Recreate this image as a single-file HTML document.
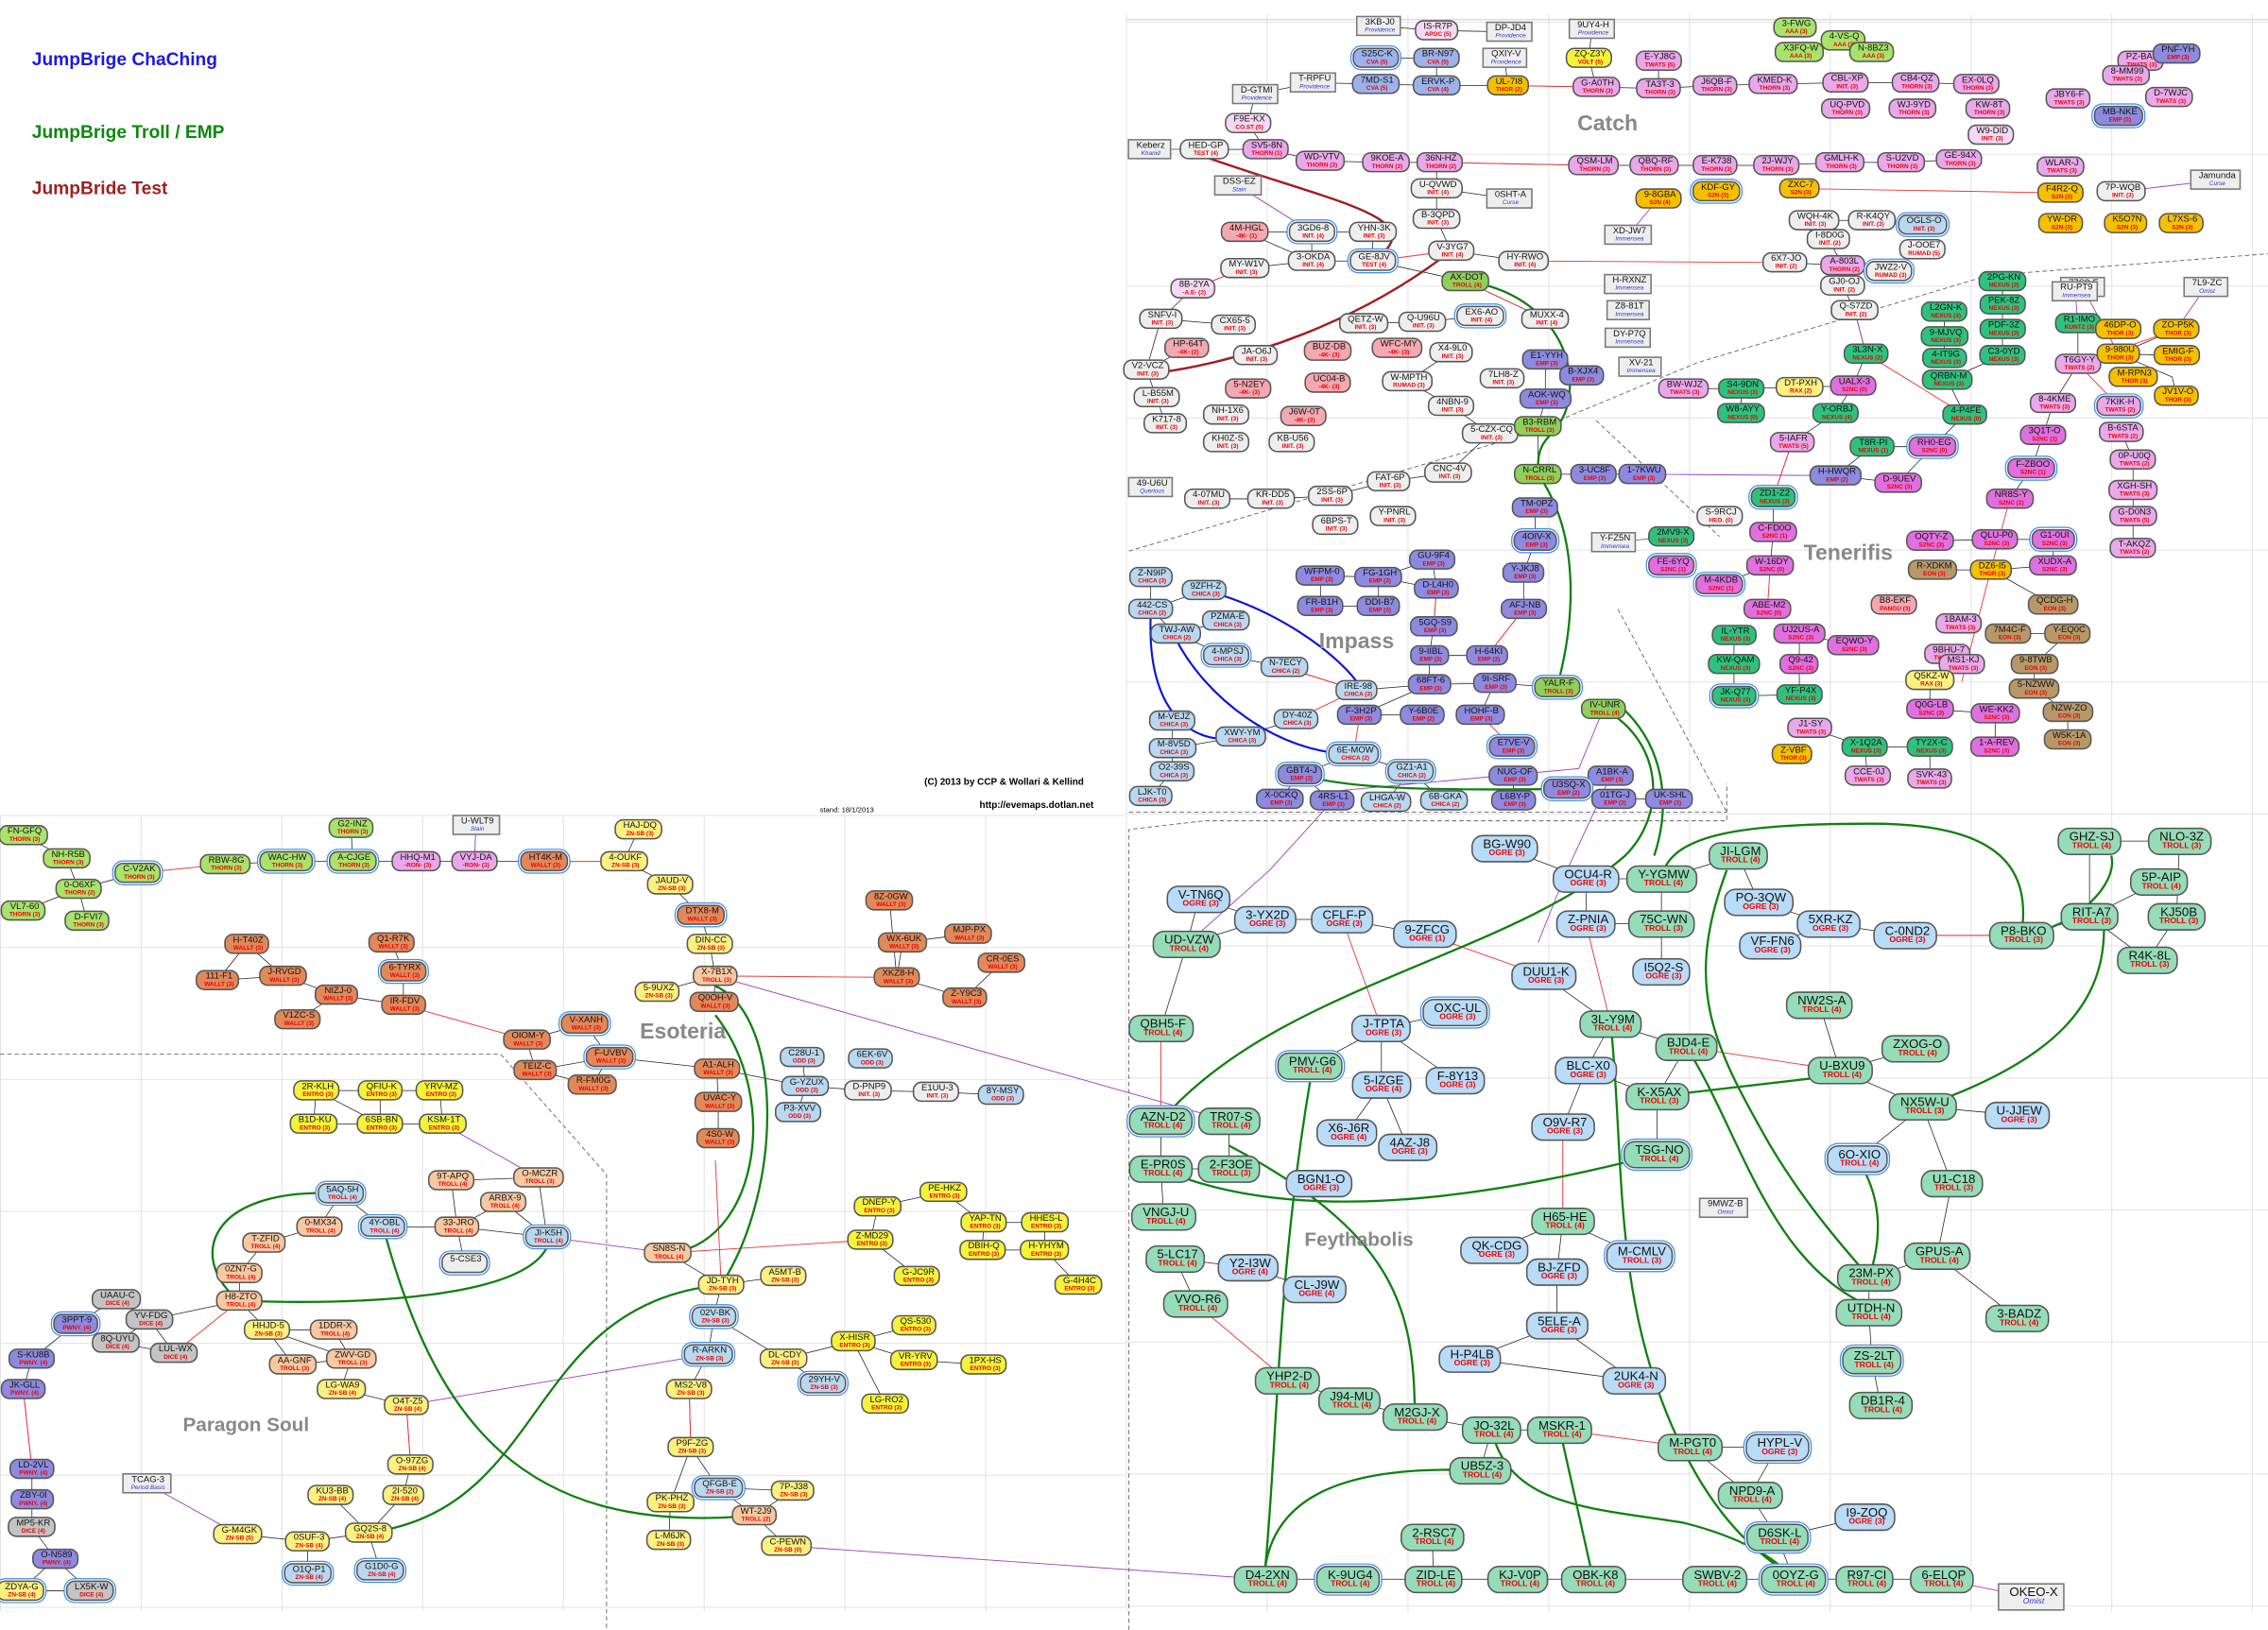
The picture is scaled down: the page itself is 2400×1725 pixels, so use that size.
<!DOCTYPE html>
<html><head><meta charset="utf-8"><style>
html,body{margin:0;padding:0;background:#fff;width:2400px;height:1725px;overflow:hidden}
#w{position:absolute;left:0;top:0;width:1563px;height:1124px;transform:scale(1.53551,1.53470);transform-origin:0 0;font-family:"Liberation Sans",sans-serif}
.g{position:absolute;background-image:linear-gradient(to right,#e2e2e2 0.7px,transparent 0.7px),linear-gradient(to bottom,#e2e2e2 0.7px,transparent 0.7px);background-size:97px 91px}
.n{position:absolute;transform:translate(-50%,-50%);border:0.7px solid #555;border-radius:6px;font-size:6.2px;line-height:6.1px;padding:0.7px 3px 0.9px 5px;text-align:center;white-space:nowrap;color:#111;background:#eee;font-style:normal}
.n u{display:block;text-decoration:none;color:#e00;font-size:4.2px;line-height:4.6px;font-weight:bold;font-style:normal}
.N{font-size:8.6px;line-height:8.4px;padding:1px 4px 1.2px 7px;border-radius:8px}
.N u{font-size:5.6px;line-height:6px}
.x{border-radius:0;background:#eee;border-color:#777}
.x u{color:#33c;font-weight:normal;font-style:italic}
.d{box-shadow:0 0 0 0.8px #fff,0 0 0 1.6px #3a8cf0}
.b{background:#b8dbf7}.gr{background:#95dcb9}.p{background:#e9a8ea}.m{background:#e070e0}.lp{background:#f3d9f3}
.y{background:#f5f23a}.ye{background:#fbf080}.o{background:#e2895a}.lg{background:#a9e36a}.pu{background:#8d8ae0}
.t{background:#2ec27e}.br{background:#b89868}.gd{background:#f5c000}.lr{background:#f4a8b0}.pe{background:#f8c8a0}
.dc{background:#c4c4c4}.cv{background:#9db2ea}.lm{background:#8fcf5a}.lb{background:#b9d8f0}
.L{position:absolute;font-weight:bold;color:#888;font-size:15px}
.T{position:absolute;font-weight:bold;font-size:12.5px}
</style></head><body><div id="w">
<div class="g" style="left:776px;top:10px;width:787px;height:1101px;background-position:0 5px"></div>
<div class="g" style="left:0;top:562px;width:776px;height:549px;background-position:0 0"></div>
<div style="position:absolute;left:776px;top:13px;width:787px;height:1px;background:#ddd"></div>

<svg style="position:absolute;left:0;top:0" width="1563" height="1124" viewBox="0 0 1563 1124" fill="none">
<g stroke="#666" stroke-width="0.6" stroke-dasharray="3,2">
<path d="M0 727 L345 727 L418 810 L418 1124"/>
<path d="M778 1124 L778 572 L830 566 L1190 566 L1190 540"/>
<path d="M778 380 L1050 300 L1170 250 L1370 190 L1563 175"/>
<path d="M1100 290 L1185 370"/>
<path d="M1115 420 L1190 560"/>
<path d="M778 560 L1190 560"/>
</g>
<g stroke="#222" stroke-width="0.5">
<path d="M826 620 L872 634 L925 634 L982 644"/><path d="M826 620 L818 651 L872 634"/><path d="M818 651 L800 709"/>
<path d="M1037 585 L1093 606 L1145 606 L1198 590"/><path d="M1093 606 L1093 637 L1145 637 L1145 606"/><path d="M1145 637 L1145 670"/>
<path d="M1064 673 L1110 706 L1162 722"/><path d="M1110 706 L1093 738 L1142 756 L1162 722"/><path d="M1093 738 L1077 777"/>
<path d="M952 709 L1003 698"/><path d="M952 709 L903 735"/><path d="M952 709 L952 748 L928 781"/><path d="M952 709 L1003 745"/><path d="M952 748 L970 791"/>
<path d="M800 773 L800 806 L847 806 L847 773"/><path d="M800 806 L802 839"/><path d="M810 868 L860 874 L906 889"/><path d="M810 868 L824 899"/>
<path d="M1077 842 L1130 866"/><path d="M1077 842 L1030 862"/><path d="M1077 842 L1073 877 L1073 914 L1013 937 L1126 952 L1073 914"/>
<path d="M1142 756 L1142 796"/><path d="M1198 590 L1212 622 L1260 637 L1313 645 L1393 645"/><path d="M1220 652 L1260 637"/>
<path d="M1440 580 L1502 580 L1500 632 L1480 662 L1440 632 L1440 580"/><path d="M1440 632 L1488 608"/><path d="M1393 645 L1440 632"/>
<path d="M1254 693 L1268 738 L1320 723"/><path d="M1268 738 L1325 763 L1390 769"/><path d="M1325 763 L1345 816 L1335 866"/><path d="M1325 763 L1280 799"/>
<path d="M1288 881 L1288 905 L1290 938 L1296 969"/><path d="M1335 866 L1390 909"/><path d="M1288 881 L1335 866"/>
<path d="M887 952 L930 966 L975 977 L1028 986 L1075 986"/><path d="M1028 986 L1020 1014"/><path d="M1165 998 L1225 998 L1206 1031 L1165 998"/><path d="M1206 1031 L1225 1060 L1285 1046"/><path d="M1225 1060 L1236 1089"/>
<path d="M872 1089 L1098 1089"/><path d="M1182 1089 L1338 1089"/><path d="M987 1060 L988 1089"/>
<path d="M46 592 L16 576"/><path d="M46 592 L54 613 L16 628"/><path d="M54 613 L60 635"/><path d="M54 613 L95 602"/><path d="M155 596 L197 594 L243 594 L287 594 L327 594 L375 594"/><path d="M243 594 L242 571"/><path d="M430 594 L440 572"/><path d="M430 594 L462 610 L483 631 L489 651"/>
<path d="M170 651 L150 676 L195 673 L170 651"/><path d="M195 673 L232 686 L278 693 L278 670 L270 650"/><path d="M232 686 L205 703"/>
<path d="M363 717 L403 706 L420 729 L369 738 L363 717"/><path d="M369 738 L408 748 L420 729 L494 737"/><path d="M494 737 L495 760 L495 785"/><path d="M493 673 L453 684"/><path d="M493 673 L492 691"/><path d="M489 651 L493 673"/>
<path d="M553 729 L555 749 L598 752 L645 753 L690 755"/><path d="M555 749 L550 767"/><path d="M494 737 L555 749"/>
<path d="M618 674 L613 621"/><path d="M618 674 L622 650"/><path d="M618 674 L665 688 L690 664"/><path d="M622 650 L667 644"/>
<path d="M218 752 L262 752 L303 752 L305 775 L262 775 L216 775 L218 752"/><path d="M262 752 L262 775"/><path d="M218 752 L262 775"/>
<path d="M235 823 L220 846 L182 857 L165 878 L165 897"/><path d="M235 823 L264 846 L315 846 L377 853 L347 829 L315 846"/><path d="M315 846 L320 871"/><path d="M311 814 L371 812 L377 853"/><path d="M311 814 L315 846"/>
<path d="M80 896 L52 913 L80 926 L103 910 L80 896"/><path d="M80 926 L120 933 L103 910 L165 897"/><path d="M52 913 L22 937 L16 958"/><path d="M16 958 L22 1013 L22 1034 L22 1053 L38 1075 L14 1097 L62 1097 L38 1075"/>
<path d="M165 897 L184 917 L230 917 L242 937 L202 941 L184 917 L242 937 L235 958 L280 969 L283 1010 L278 1031 L254 1057 L212 1063 L164 1058"/><path d="M254 1057 L228 1031"/><path d="M212 1063 L212 1085"/><path d="M254 1057 L262 1083"/>
<path d="M460 864 L497 886 L540 880"/><path d="M497 886 L492 908 L488 934 L475 958 L476 998 L495 1026 L520 1045 L546 1028 L495 1026"/><path d="M476 998 L462 1036 L461 1062"/><path d="M520 1045 L542 1066"/><path d="M492 908 L540 937 L588 925 L630 914"/><path d="M540 937 L567 954"/><path d="M588 925 L630 938 L678 941"/><path d="M588 925 L610 968"/>
<path d="M605 832 L650 822 L678 843 L720 843 L720 862 L677 862 L678 843"/><path d="M605 832 L600 855 L632 880"/><path d="M720 862 L743 886"/>
<path d="M865 65 L905 57 L948 58 L990 59 L1039 59 L1100 60 L1143 61 L1180 59 L1220 58 L1270 57 L1320 57 L1360 58"/><path d="M948 40 L990 40 L990 59"/><path d="M950 18 L990 21 L1040 22"/><path d="M1037 40 L1039 59"/><path d="M1097 20 L1095 40 L1100 60"/><path d="M1143 42 L1143 61"/>
<path d="M865 65 L860 85 L872 103 L830 103 L790 103"/><path d="M872 103 L910 111 L955 112 L990 112 L1098 114 L1140 114 L1180 114 L1222 114 L1268 112 L1310 112 L1350 110"/><path d="M990 112 L990 130 L990 151 L1000 173 L1050 180"/><path d="M990 130 L1040 137"/>
<path d="M858 160 L904 160 L946 160 L946 180 L904 180 L904 160"/><path d="M858 160 L904 180 L858 185"/><path d="M858 185 L822 199 L800 220 L850 224"/><path d="M946 180 L1010 194 L1065 220"/><path d="M800 220 L790 255 L818 240"/><path d="M790 255 L797 274 L803 292"/>
<path d="M940 223 L980 222 L1020 218"/><path d="M1000 243 L970 263 L1000 280 L1027 299 L998 326 L957 332 L917 342 L876 344 L832 344"/><path d="M1065 248 L1065 275 L1060 294 L1060 327 L1098 327 L1132 327"/><path d="M1058 350 L1058 373 L1050 395 L1050 420 L1025 452 L985 452 L985 472 L1030 471 L1073 474"/><path d="M985 472 L937 493 L980 493"/><path d="M1030 471 L1020 493"/><path d="M935 476 L985 472"/>
<path d="M910 397 L950 398 L987 386 L990 406 L950 398 L950 418 L910 418 L910 397"/><path d="M990 406 L988 432 L985 452"/>
<path d="M793 398 L793 420 L810 437 L845 452 L885 460 L935 476"/><path d="M793 420 L830 407"/><path d="M810 437 L845 428"/><path d="M808 497 L808 516 L855 508 L893 496"/><path d="M808 516 L808 532 L793 549"/><path d="M933 520 L896 534 L882 551"/><path d="M896 534 L918 552"/><path d="M933 520 L972 532 L955 553"/><path d="M972 532 L995 552"/><path d="M1043 535 L1043 552"/><path d="M1080 544 L1110 535"/><path d="M1080 544 L1112 551 L1150 551"/>
<path d="M1250 152 L1290 152 L1325 155"/><path d="M1260 165 L1270 183 L1230 181"/><path d="M1270 183 L1270 197 L1278 214 L1286 244 L1277 266 L1265 285 L1235 305 L1222 343 L1222 367 L1220 390"/><path d="M1160 268 L1200 268 L1240 267 L1277 266"/><path d="M1200 268 L1200 285"/><path d="M1380 194 L1380 210 L1380 245 L1342 262 L1354 286 L1332 308 L1308 333 L1265 328 L1290 308 L1332 308"/><path d="M1340 215 L1340 245"/><path d="M1432 223 L1432 251 L1415 278 L1408 300 L1400 323 L1385 344"/><path d="M1500 227 L1460 244 L1497 245"/><path d="M1460 244 L1497 260 L1500 273"/><path d="M1462 298 L1470 317 L1470 338 L1470 356 L1470 378"/>
<path d="M1330 373 L1375 372 L1415 372 L1415 390 L1372 393 L1332 393"/><path d="M1372 393 L1415 417"/><path d="M1185 403 L1220 390"/><path d="M1195 438 L1195 458 L1195 480 L1240 479 L1240 458 L1240 437 L1277 445"/><path d="M1384 437 L1425 437 L1402 458 L1402 475 L1425 491 L1425 510"/><path d="M1330 469 L1330 489 L1375 492 L1375 515"/><path d="M1285 515 L1330 515 L1330 537"/><path d="M1247 502 L1285 515 L1287 535"/>
</g>
<g stroke="#e33" stroke-width="0.6">
<path d="M925 634 L952 709"/><path d="M982 644 L1064 673"/><path d="M1093 637 L1110 706"/><path d="M800 709 L800 773"/><path d="M824 899 L887 952"/><path d="M1077 777 L1077 842"/><path d="M1075 986 L1165 998"/><path d="M1098 1089 L1182 1089"/><path d="M1162 722 L1268 738"/><path d="M1313 645 L1393 645"/>
<path d="M95 602 L155 596"/><path d="M375 594 L430 594"/><path d="M278 693 L363 717"/><path d="M493 673 L618 674"/><path d="M165 897 L120 933"/><path d="M22 1013 L16 958"/><path d="M280 969 L283 1010"/><path d="M475 958 L476 998"/><path d="M497 886 L493 800"/><path d="M460 864 L600 855"/>
<path d="M1039 59 L1100 60"/><path d="M990 112 L1098 114"/><path d="M1050 180 L1230 181"/><path d="M1420 133 L1240 130"/><path d="M822 199 L858 185"/><path d="M1000 173 L946 180"/><path d="M1010 194 L1065 220"/><path d="M1286 244 L1354 286"/><path d="M1432 251 L1500 227"/><path d="M1432 251 L1460 280"/><path d="M1235 305 L1222 343"/><path d="M885 460 L935 476 L893 496"/><path d="M937 493 L933 520"/><path d="M990 406 L988 432"/><path d="M1050 420 L1025 452"/><path d="M1020 493 L1042 515"/><path d="M1385 344 L1372 393 L1352 470"/><path d="M1218 420 L1220 390"/>
</g>
<g stroke="#a040c0" stroke-width="0.6">
<path d="M493 673 L847 773"/><path d="M542 1066 L872 1089"/><path d="M1105 489 L1088 530 L925 545 L875 600 L818 651"/><path d="M488 934 L280 969"/><path d="M101 1023 L164 1058"/><path d="M1338 1089 L1397 1101"/><path d="M377 853 L460 864"/><path d="M305 775 L371 812"/><path d="M1110 535 L1080 600 L1060 650"/><path d="M1132 327 L1265 328"/><path d="M1112 374 L1152 370"/><path d="M790 103 L830 103"/><path d="M853 128 L904 160"/><path d="M328 569 L327 594"/><path d="M1143 137 L1122 162"/><path d="M1430 200 L1432 223"/><path d="M1435 198 L1460 244"/><path d="M1520 198 L1500 227"/><path d="M1278 214 L1286 244"/><path d="M1530 124 L1462 132"/>
</g>
<g stroke="#108010" stroke-width="1.5">
<path d="M1010 194 C1060 200 1090 240 1080 280 C1075 300 1060 300 1060 320"/>
<path d="M1060 327 C1090 370 1085 430 1073 474"/>
<path d="M1105 489 C1145 510 1150 560 1120 590 C1040 660 880 680 800 773"/>
<path d="M1120 490 C1150 520 1150 560 1140 590"/>
<path d="M1145 606 C1150 575 1200 568 1290 568 C1380 568 1400 600 1393 645"/>
<path d="M1393 645 C1430 640 1460 610 1455 590"/>
<path d="M1325 763 C1420 730 1450 690 1450 640"/>
<path d="M1190 600 C1160 680 1180 720 1220 790 C1250 840 1280 870 1288 881"/>
<path d="M1162 722 C1200 780 1220 880 1300 905"/>
<path d="M1110 706 C1120 800 1110 900 1160 1000 C1190 1060 1220 1075 1236 1089"/>
<path d="M1028 986 C1040 1040 1100 1040 1160 1050 C1200 1060 1225 1075 1236 1089"/>
<path d="M1075 986 L1098 1089"/>
<path d="M903 745 C880 880 880 1000 872 1080"/>
<path d="M847 790 C960 850 975 900 975 977"/>
<path d="M800 806 C900 850 1050 820 1142 796"/>
<path d="M1142 756 L1280 740"/>
<path d="M872 1080 C880 1030 930 1010 1020 1014"/>
<path d="M1280 799 C1300 830 1295 860 1288 881"/>
<path d="M235 823 C140 818 130 870 165 897"/>
<path d="M165 897 C250 900 360 895 377 860"/>
<path d="M264 846 C300 980 360 1060 520 1045"/>
<path d="M254 1057 C380 1040 360 900 497 886"/>
<path d="M497 886 C540 820 540 700 493 680"/>
<path d="M460 864 C520 860 540 760 493 700"/>
<path d="M896 534 C930 545 1000 545 1080 544"/>
</g>
<g stroke="#0a14e0" stroke-width="1.4">
<path d="M830 407 C880 420 920 450 935 470"/>
<path d="M793 425 C790 500 830 515 855 508"/>
<path d="M810 440 C830 480 880 520 933 520"/>
</g>
<g stroke="#a02020" stroke-width="1.6">
<path d="M830 108 C920 140 990 150 946 180"/>
<path d="M790 258 C860 250 940 220 1000 173"/>
</g>
</svg>

<div class="T" style="left:22px;top:34px;color:#1a1ae6">JumpBrige ChaChing</div>
<div class="T" style="left:22px;top:84px;color:#0a8a0a">JumpBrige Troll / EMP</div>
<div class="T" style="left:22px;top:123px;color:#a02020">JumpBride Test</div>
<div style="position:absolute;left:637px;top:536px;font-size:6.5px;font-weight:bold">(C) 2013 by CCP &amp; Wollari &amp; Kellind</div>
<div style="position:absolute;left:675px;top:552px;font-size:6.5px;font-weight:bold">http://evemaps.dotlan.net</div>
<div style="position:absolute;left:565px;top:556px;font-size:5px">stand: 18/1/2013</div>
<div class="L" style="left:1087px;top:77px">Catch</div>
<div class="L" style="left:1243px;top:373px">Tenerifis</div>
<div class="L" style="left:909px;top:434px">Impass</div>
<div class="L" style="left:441px;top:703px">Esoteria</div>
<div class="L" style="left:899px;top:847px;font-size:13.5px">Feythabolis</div>
<div class="L" style="left:126px;top:975px;font-size:13.5px">Paragon Soul</div>

<i class="n N b" style="left:1037px;top:585px">BG-W90<u>OGRE (3)</u></i>
<i class="n N b" style="left:1093px;top:606px">OCU4-R<u>OGRE (3)</u></i>
<i class="n N gr" style="left:1145px;top:606px">Y-YGMW<u>TROLL (4)</u></i>
<i class="n N gr" style="left:1198px;top:590px">JI-LGM<u>TROLL (4)</u></i>
<i class="n N b" style="left:1212px;top:622px">PO-3QW<u>OGRE (3)</u></i>
<i class="n N b" style="left:1220px;top:652px">VF-FN6<u>OGRE (3)</u></i>
<i class="n N b" style="left:1260px;top:637px">5XR-KZ<u>OGRE (3)</u></i>
<i class="n N b" style="left:1313px;top:645px">C-0ND2<u>OGRE (3)</u></i>
<i class="n N gr" style="left:1393px;top:645px">P8-BKO<u>TROLL (3)</u></i>
<i class="n N gr" style="left:1440px;top:580px">GHZ-SJ<u>TROLL (4)</u></i>
<i class="n N gr" style="left:1502px;top:580px">NLO-3Z<u>TROLL (3)</u></i>
<i class="n N gr" style="left:1488px;top:608px">5P-AIP<u>TROLL (4)</u></i>
<i class="n N gr" style="left:1440px;top:632px">RIT-A7<u>TROLL (3)</u></i>
<i class="n N gr" style="left:1500px;top:632px">KJ50B<u>TROLL (3)</u></i>
<i class="n N gr" style="left:1480px;top:662px">R4K-8L<u>TROLL (3)</u></i>
<i class="n N b" style="left:826px;top:620px">V-TN6Q<u>OGRE (3)</u></i>
<i class="n N b" style="left:872px;top:634px">3-YX2D<u>OGRE (3)</u></i>
<i class="n N b" style="left:925px;top:634px">CFLF-P<u>OGRE (3)</u></i>
<i class="n N b" style="left:982px;top:644px">9-ZFCG<u>OGRE (1)</u></i>
<i class="n N gr" style="left:818px;top:651px">UD-VZW<u>TROLL (4)</u></i>
<i class="n N b" style="left:1093px;top:637px">Z-PNIA<u>OGRE (3)</u></i>
<i class="n N gr" style="left:1145px;top:637px">75C-WN<u>TROLL (3)</u></i>
<i class="n N b" style="left:1145px;top:670px">I5Q2-S<u>OGRE (3)</u></i>
<i class="n N b" style="left:1064px;top:673px">DUU1-K<u>OGRE (3)</u></i>
<i class="n N gr" style="left:800px;top:709px">QBH5-F<u>TROLL (4)</u></i>
<i class="n N b" style="left:952px;top:709px">J-TPTA<u>OGRE (3)</u></i>
<i class="n N b d" style="left:1003px;top:698px">OXC-UL<u>OGRE (3)</u></i>
<i class="n N gr" style="left:1110px;top:706px">3L-Y9M<u>TROLL (4)</u></i>
<i class="n N gr" style="left:1162px;top:722px">BJD4-E<u>TROLL (4)</u></i>
<i class="n N gr" style="left:1254px;top:693px">NW2S-A<u>TROLL (4)</u></i>
<i class="n N gr d" style="left:903px;top:735px">PMV-G6<u>TROLL (4)</u></i>
<i class="n N b" style="left:952px;top:748px">5-IZGE<u>OGRE (4)</u></i>
<i class="n N b" style="left:1003px;top:745px">F-8Y13<u>OGRE (3)</u></i>
<i class="n N b" style="left:1093px;top:738px">BLC-X0<u>OGRE (3)</u></i>
<i class="n N gr" style="left:1142px;top:756px">K-X5AX<u>TROLL (3)</u></i>
<i class="n N gr" style="left:1268px;top:738px">U-BXU9<u>TROLL (4)</u></i>
<i class="n N gr" style="left:1320px;top:723px">ZXOG-O<u>TROLL (4)</u></i>
<i class="n N gr d" style="left:800px;top:773px">AZN-D2<u>TROLL (4)</u></i>
<i class="n N gr" style="left:847px;top:773px">TR07-S<u>TROLL (4)</u></i>
<i class="n N b" style="left:928px;top:781px">X6-J6R<u>OGRE (4)</u></i>
<i class="n N b" style="left:970px;top:791px">4AZ-J8<u>OGRE (3)</u></i>
<i class="n N b" style="left:1077px;top:777px">O9V-R7<u>OGRE (3)</u></i>
<i class="n N gr" style="left:1325px;top:763px">NX5W-U<u>TROLL (3)</u></i>
<i class="n N b" style="left:1390px;top:769px">U-JJEW<u>OGRE (3)</u></i>
<i class="n N gr d" style="left:1142px;top:796px">TSG-NO<u>TROLL (4)</u></i>
<i class="n N gr" style="left:800px;top:806px">E-PR0S<u>TROLL (4)</u></i>
<i class="n N gr" style="left:847px;top:806px">2-F3OE<u>TROLL (3)</u></i>
<i class="n N b" style="left:909px;top:816px">BGN1-O<u>OGRE (3)</u></i>
<i class="n N b d" style="left:1280px;top:799px">6O-XIO<u>TROLL (4)</u></i>
<i class="n N gr" style="left:1345px;top:816px">U1-C18<u>TROLL (3)</u></i>
<i class="n x" style="left:1188px;top:833px">9MWZ-B<u>Omist</u></i>
<i class="n N gr" style="left:802px;top:839px">VNGJ-U<u>TROLL (4)</u></i>
<i class="n N gr" style="left:1077px;top:842px">H65-HE<u>TROLL (4)</u></i>
<i class="n N b d" style="left:1130px;top:866px">M-CMLV<u>TROLL (3)</u></i>
<i class="n N b" style="left:1030px;top:862px">QK-CDG<u>OGRE (3)</u></i>
<i class="n N gr" style="left:1335px;top:866px">GPUS-A<u>TROLL (4)</u></i>
<i class="n N gr" style="left:810px;top:868px">5-LC17<u>TROLL (4)</u></i>
<i class="n N b" style="left:860px;top:874px">Y2-I3W<u>OGRE (4)</u></i>
<i class="n N b" style="left:906px;top:889px">CL-J9W<u>OGRE (4)</u></i>
<i class="n N b" style="left:1073px;top:877px">BJ-ZFD<u>OGRE (3)</u></i>
<i class="n N gr" style="left:1288px;top:881px">23M-PX<u>TROLL (4)</u></i>
<i class="n N gr" style="left:824px;top:899px">VVO-R6<u>TROLL (4)</u></i>
<i class="n N gr" style="left:1288px;top:905px">UTDH-N<u>TROLL (4)</u></i>
<i class="n N gr" style="left:1390px;top:909px">3-BADZ<u>TROLL (4)</u></i>
<i class="n N b" style="left:1073px;top:914px">5ELE-A<u>OGRE (3)</u></i>
<i class="n N b" style="left:1013px;top:937px">H-P4LB<u>OGRE (3)</u></i>
<i class="n N b" style="left:1126px;top:952px">2UK4-N<u>OGRE (3)</u></i>
<i class="n N gr d" style="left:1290px;top:938px">ZS-2LT<u>TROLL (4)</u></i>
<i class="n N gr" style="left:887px;top:952px">YHP2-D<u>TROLL (4)</u></i>
<i class="n N gr" style="left:930px;top:966px">J94-MU<u>TROLL (4)</u></i>
<i class="n N gr" style="left:1296px;top:969px">DB1R-4<u>TROLL (4)</u></i>
<i class="n N gr" style="left:975px;top:977px">M2GJ-X<u>TROLL (4)</u></i>
<i class="n N gr" style="left:1028px;top:986px">JO-32L<u>TROLL (4)</u></i>
<i class="n N gr" style="left:1075px;top:986px">MSKR-1<u>TROLL (4)</u></i>
<i class="n N gr" style="left:1165px;top:998px">M-PGT0<u>TROLL (4)</u></i>
<i class="n N b d" style="left:1225px;top:998px">HYPL-V<u>OGRE (3)</u></i>
<i class="n N gr" style="left:1020px;top:1014px">UB5Z-3<u>TROLL (4)</u></i>
<i class="n N gr" style="left:1206px;top:1031px">NPD9-A<u>TROLL (4)</u></i>
<i class="n N b" style="left:1285px;top:1046px">I9-ZOQ<u>OGRE (3)</u></i>
<i class="n N gr" style="left:987px;top:1060px">2-RSC7<u>TROLL (4)</u></i>
<i class="n N gr d" style="left:1225px;top:1060px">D6SK-L<u>TROLL (4)</u></i>
<i class="n N gr" style="left:872px;top:1089px">D4-2XN<u>TROLL (4)</u></i>
<i class="n N gr d" style="left:929px;top:1089px">K-9UG4<u>TROLL (4)</u></i>
<i class="n N gr" style="left:988px;top:1089px">ZID-LE<u>TROLL (4)</u></i>
<i class="n N gr" style="left:1046px;top:1089px">KJ-V0P<u>TROLL (4)</u></i>
<i class="n N gr" style="left:1098px;top:1089px">OBK-K8<u>TROLL (4)</u></i>
<i class="n N gr" style="left:1182px;top:1089px">SWBV-2<u>TROLL (4)</u></i>
<i class="n N gr d" style="left:1236px;top:1089px">0OYZ-G<u>TROLL (4)</u></i>
<i class="n N gr" style="left:1285px;top:1089px">R97-CI<u>TROLL (4)</u></i>
<i class="n N gr" style="left:1338px;top:1089px">6-ELQP<u>TROLL (4)</u></i>
<i class="n N x" style="left:1400px;top:1101px">OKEO-X<u>Omist</u></i>

<i class="n x" style="left:950px;top:18px">3KB-J0<u>Providence</u></i>
<i class="n lp" style="left:990px;top:21px">IS-R7P<u>APOC (5)</u></i>
<i class="n x" style="left:1040px;top:22px">DP-JD4<u>Providence</u></i>
<i class="n x" style="left:1097px;top:20px">9UY4-H<u>Providence</u></i>
<i class="n lg" style="left:1237px;top:19px">3-FWG<u>AAA (3)</u></i>
<i class="n lg" style="left:1270px;top:28px">4-VS-Q<u>AAA (3)</u></i>
<i class="n cv d" style="left:948px;top:40px">S25C-K<u>CVA (5)</u></i>
<i class="n cv" style="left:990px;top:40px">BR-N97<u>CVA (5)</u></i>
<i class="n x" style="left:1037px;top:40px">QXIY-V<u>Providence</u></i>
<i class="n y" style="left:1095px;top:40px">ZQ-Z3Y<u>VOLT (5)</u></i>
<i class="n p" style="left:1143px;top:42px">E-YJ8G<u>TWATS (5)</u></i>
<i class="n lg" style="left:1240px;top:36px">X3FQ-W<u>AAA (3)</u></i>
<i class="n lg" style="left:1290px;top:36px">N-8BZ3<u>AAA (3)</u></i>
<i class="n p" style="left:1475px;top:42px">PZ-BA5<u>TWATS (3)</u></i>
<i class="n pu" style="left:1500px;top:37px">PNF-YH<u>EMP (3)</u></i>
<i class="n x" style="left:905px;top:57px">T-RPFU<u>Providence</u></i>
<i class="n cv" style="left:948px;top:58px">7MD-S1<u>CVA (5)</u></i>
<i class="n cv" style="left:990px;top:59px">ERVK-P<u>CVA (4)</u></i>
<i class="n gd" style="left:1039px;top:59px">UL-7I8<u>THOR (2)</u></i>
<i class="n p" style="left:1100px;top:60px">G-A0TH<u>THORN (3)</u></i>
<i class="n p" style="left:1143px;top:61px">TA3T-3<u>THORN (3)</u></i>
<i class="n p" style="left:1182px;top:59px">J6QB-F<u>THORN (3)</u></i>
<i class="n p" style="left:1222px;top:58px">KMED-K<u>THORN (3)</u></i>
<i class="n p" style="left:1272px;top:57px">CBL-XP<u>INIT. (3)</u></i>
<i class="n p" style="left:1320px;top:57px">CB4-QZ<u>THORN (3)</u></i>
<i class="n p" style="left:1362px;top:58px">EX-0LQ<u>THORN (3)</u></i>
<i class="n p" style="left:1465px;top:52px">8-MM99<u>TWATS (3)</u></i>
<i class="n p" style="left:1425px;top:68px">JBY6-F<u>TWATS (3)</u></i>
<i class="n p" style="left:1495px;top:67px">D-7WJC<u>TWATS (3)</u></i>
<i class="n pu d" style="left:1460px;top:80px">MB-NKE<u>EMP (3)</u></i>
<i class="n x" style="left:865px;top:65px">D-GTMI<u>Providence</u></i>
<i class="n lp" style="left:860px;top:85px">F9E-KX<u>CO.ST (5)</u></i>
<i class="n p" style="left:1272px;top:75px">UQ-PVD<u>THORN (3)</u></i>
<i class="n p" style="left:1318px;top:75px">WJ-9YD<u>THORN (3)</u></i>
<i class="n p" style="left:1370px;top:75px">KW-8T<u>THORN (3)</u></i>
<i class="n lp" style="left:1372px;top:93px">W9-DID<u>INIT. (3)</u></i>
<i class="n x" style="left:792px;top:103px">Keberz<u>Khanid</u></i>
<i class="n" style="left:830px;top:103px">HED-GP<u>TEST (4)</u></i>
<i class="n p" style="left:872px;top:103px">SV5-8N<u>THORN (1)</u></i>
<i class="n p" style="left:910px;top:111px">WD-VTV<u>THORN (3)</u></i>
<i class="n p" style="left:955px;top:112px">9KOE-A<u>THORN (3)</u></i>
<i class="n p" style="left:992px;top:112px">36N-HZ<u>THORN (2)</u></i>
<i class="n p" style="left:1098px;top:114px">QSM-LM<u>THORN (3)</u></i>
<i class="n p" style="left:1140px;top:114px">QBQ-RF<u>THORN (3)</u></i>
<i class="n p" style="left:1182px;top:114px">E-K738<u>THORN (3)</u></i>
<i class="n p" style="left:1224px;top:114px">2J-WJY<u>THORN (3)</u></i>
<i class="n p" style="left:1268px;top:112px">GMLH-K<u>THORN (3)</u></i>
<i class="n p" style="left:1310px;top:112px">S-U2VD<u>THORN (3)</u></i>
<i class="n p" style="left:1350px;top:110px">GE-94X<u>THORN (3)</u></i>
<i class="n p" style="left:1420px;top:115px">WLAR-J<u>TWATS (3)</u></i>
<i class="n x" style="left:1527px;top:124px">Jamunda<u>Curse</u></i>
<i class="n x" style="left:853px;top:128px">DSS-EZ<u>Stain</u></i>
<i class="n" style="left:990px;top:130px">U-QVWD<u>INIT. (4)</u></i>
<i class="n x" style="left:1040px;top:137px">0SHT-A<u>Curse</u></i>
<i class="n gd" style="left:1143px;top:137px">9-8GBA<u>S2N (4)</u></i>
<i class="n gd d" style="left:1183px;top:132px">KDF-GY<u>S2N (3)</u></i>
<i class="n gd" style="left:1240px;top:130px">ZXC-7<u>S2N (3)</u></i>
<i class="n gd" style="left:1420px;top:133px">F4R2-Q<u>S2N (3)</u></i>
<i class="n" style="left:1462px;top:132px">7P-WQB<u>INIT. (3)</u></i>
<i class="n lr" style="left:858px;top:160px">4M-HGL<u>-4K- (1)</u></i>
<i class="n d" style="left:904px;top:160px">3GD6-8<u>INIT. (4)</u></i>
<i class="n" style="left:946px;top:160px">YHN-3K<u>INIT. (3)</u></i>
<i class="n" style="left:990px;top:151px">B-3QPD<u>INIT. (3)</u></i>
<i class="n x" style="left:1122px;top:162px">XD-JW7<u>Immensea</u></i>
<i class="n" style="left:1250px;top:152px">WQH-4K<u>INIT. (3)</u></i>
<i class="n" style="left:1290px;top:152px">R-K4QY<u>INIT. (3)</u></i>
<i class="n lb d" style="left:1325px;top:155px">OGLS-O<u>INIT. (3)</u></i>
<i class="n gd" style="left:1420px;top:154px">YW-DR<u>S2N (3)</u></i>
<i class="n gd" style="left:1465px;top:154px">K5O7N<u>S2N (3)</u></i>
<i class="n gd" style="left:1503px;top:154px">L7XS-6<u>S2N (3)</u></i>
<i class="n" style="left:858px;top:185px">MY-W1V<u>INIT. (3)</u></i>
<i class="n" style="left:904px;top:180px">3-OKDA<u>INIT. (4)</u></i>
<i class="n d" style="left:946px;top:180px">GE-8JV<u>TEST (4)</u></i>
<i class="n" style="left:1000px;top:173px">V-3YG7<u>INIT. (4)</u></i>
<i class="n" style="left:1050px;top:180px">HY-RWO<u>INIT. (4)</u></i>
<i class="n" style="left:1260px;top:165px">I-8D0G<u>INIT. (2)</u></i>
<i class="n" style="left:1325px;top:172px">J-OOE7<u>RUMAD (5)</u></i>
<i class="n" style="left:1230px;top:181px">6X7-JO<u>INIT. (2)</u></i>
<i class="n p" style="left:1270px;top:183px">A-803L<u>THORN (2)</u></i>
<i class="n d" style="left:1302px;top:187px">JWZ2-V<u>RUMAD (3)</u></i>
<i class="n lp" style="left:822px;top:199px">8B-2YA<u>-A.E- (2)</u></i>
<i class="n lm" style="left:1010px;top:194px">AX-DOT<u>TROLL (4)</u></i>
<i class="n x" style="left:1122px;top:196px">H-RXNZ<u>Immensea</u></i>
<i class="n" style="left:1270px;top:197px">GJ0-OJ<u>INIT. (2)</u></i>
<i class="n t" style="left:1380px;top:194px">2PG-KN<u>NEXUS (3)</u></i>
<i class="n x" style="left:1435px;top:198px">77S8-E<u>Detorid</u></i>
<i class="n x" style="left:1520px;top:198px">7L9-ZC<u>Omist</u></i>
<i class="n x" style="left:1430px;top:201px">RU-PT9<u>Immensea</u></i>
<i class="n" style="left:800px;top:220px">SNFV-I<u>INIT. (3)</u></i>
<i class="n" style="left:850px;top:224px">CX65-5<u>INIT. (3)</u></i>
<i class="n" style="left:940px;top:223px">QETZ-W<u>INIT. (3)</u></i>
<i class="n" style="left:980px;top:222px">Q-U96U<u>INIT. (3)</u></i>
<i class="n d" style="left:1020px;top:218px">EX6-AO<u>INIT. (4)</u></i>
<i class="n" style="left:1065px;top:220px">MUXX-4<u>INIT. (4)</u></i>
<i class="n x" style="left:1122px;top:214px">Z8-81T<u>Immensea</u></i>
<i class="n" style="left:1278px;top:214px">Q-S7ZD<u>INIT. (2)</u></i>
<i class="n t" style="left:1340px;top:215px">L2GN-K<u>NEXUS (3)</u></i>
<i class="n t" style="left:1380px;top:210px">PEK-8Z<u>NEXUS (3)</u></i>
<i class="n t" style="left:1380px;top:227px">PDF-3Z<u>NEXUS (3)</u></i>
<i class="n t" style="left:1340px;top:232px">9-MJVQ<u>NEXUS (3)</u></i>
<i class="n lr" style="left:818px;top:240px">HP-64T<u>-4K- (2)</u></i>
<i class="n" style="left:865px;top:245px">JA-O6J<u>INIT. (3)</u></i>
<i class="n lr" style="left:915px;top:242px">BUZ-DB<u>-4K- (3)</u></i>
<i class="n lr" style="left:963px;top:240px">WFC-MY<u>-4K- (3)</u></i>
<i class="n" style="left:1000px;top:243px">X4-9L0<u>INIT. (3)</u></i>
<i class="n pu" style="left:1065px;top:248px">E1-YYH<u>EMP (3)</u></i>
<i class="n x" style="left:1122px;top:233px">DY-P7Q<u>Immensea</u></i>
<i class="n t" style="left:1286px;top:244px">3L3N-X<u>NEXUS (2)</u></i>
<i class="n t" style="left:1340px;top:247px">4-IT9G<u>NEXUS (3)</u></i>
<i class="n t" style="left:1380px;top:245px">C3-0YD<u>NEXUS (3)</u></i>
<i class="n t" style="left:1432px;top:223px">R1-IMO<u>KUNTZ (3)</u></i>
<i class="n gd" style="left:1460px;top:227px">46DP-O<u>THOR (3)</u></i>
<i class="n gd" style="left:1500px;top:227px">ZO-P5K<u>THOR (3)</u></i>
<i class="n" style="left:790px;top:255px">V2-VCZ<u>INIT. (3)</u></i>
<i class="n lr" style="left:860px;top:268px">5-N2EY<u>-4K- (3)</u></i>
<i class="n lr" style="left:915px;top:264px">UC04-B<u>-4K- (3)</u></i>
<i class="n" style="left:970px;top:263px">W-MPTH<u>RUMAD (3)</u></i>
<i class="n" style="left:1035px;top:261px">7LH8-Z<u>INIT. (3)</u></i>
<i class="n pu" style="left:1090px;top:259px">B-XJX4<u>EMP (3)</u></i>
<i class="n x" style="left:1130px;top:253px">XV-21<u>Immensea</u></i>
<i class="n p" style="left:1160px;top:268px">BW-WJZ<u>TWATS (3)</u></i>
<i class="n t" style="left:1200px;top:268px">S4-9DN<u>NEXUS (3)</u></i>
<i class="n ye" style="left:1240px;top:267px">DT-PXH<u>RAX (2)</u></i>
<i class="n m" style="left:1277px;top:266px">UALX-3<u>S2NC (0)</u></i>
<i class="n t" style="left:1342px;top:262px">QRBN-M<u>NEXUS (3)</u></i>
<i class="n p" style="left:1432px;top:251px">T6GY-Y<u>TWATS (2)</u></i>
<i class="n gd" style="left:1460px;top:244px">9-980U<u>THOR (3)</u></i>
<i class="n gd" style="left:1500px;top:245px">EMIG-F<u>THOR (3)</u></i>
<i class="n gd" style="left:1470px;top:260px">M-RPN3<u>THOR (3)</u></i>
<i class="n" style="left:797px;top:274px">L-B55M<u>INIT. (3)</u></i>
<i class="n" style="left:845px;top:286px">NH-1X6<u>INIT. (3)</u></i>
<i class="n lr" style="left:898px;top:287px">J6W-0T<u>-4K- (3)</u></i>
<i class="n" style="left:1000px;top:280px">4NBN-9<u>INIT. (3)</u></i>
<i class="n pu" style="left:1065px;top:275px">AOK-WQ<u>EMP (3)</u></i>
<i class="n t" style="left:1200px;top:285px">W8-AYY<u>NEXUS (0)</u></i>
<i class="n t" style="left:1265px;top:285px">Y-ORBJ<u>NEXUS (4)</u></i>
<i class="n t" style="left:1354px;top:286px">4-P4FE<u>NEXUS (0)</u></i>
<i class="n p" style="left:1415px;top:278px">8-4KME<u>TWATS (3)</u></i>
<i class="n p d" style="left:1460px;top:280px">7KIK-H<u>TWATS (2)</u></i>
<i class="n gd" style="left:1500px;top:273px">JV1V-O<u>THOR (3)</u></i>
<i class="n" style="left:803px;top:292px">K717-8<u>INIT. (3)</u></i>
<i class="n" style="left:845px;top:305px">KH0Z-S<u>INIT. (3)</u></i>
<i class="n" style="left:890px;top:305px">KB-U56<u>INIT. (3)</u></i>
<i class="n" style="left:1027px;top:299px">5-CZX-CQ<u>INIT. (3)</u></i>
<i class="n lm" style="left:1060px;top:294px">B3-RBM<u>TROLL (3)</u></i>
<i class="n p" style="left:1235px;top:305px">5-IAFR<u>TWATS (5)</u></i>
<i class="n t" style="left:1290px;top:308px">T8R-PI<u>NEXUS (1)</u></i>
<i class="n m d" style="left:1332px;top:308px">RH0-EG<u>S2NC (0)</u></i>
<i class="n m" style="left:1408px;top:300px">3Q1T-O<u>S2NC (1)</u></i>
<i class="n p" style="left:1462px;top:298px">B-6STA<u>TWATS (2)</u></i>
<i class="n x" style="left:793px;top:336px">49-U6U<u>Querious</u></i>
<i class="n" style="left:832px;top:344px">4-07MU<u>INIT. (3)</u></i>
<i class="n" style="left:876px;top:344px">KR-DD5<u>INIT. (3)</u></i>
<i class="n" style="left:917px;top:342px">2SS-6P<u>INIT. (3)</u></i>
<i class="n" style="left:957px;top:332px">FAT-6P<u>INIT. (3)</u></i>
<i class="n" style="left:998px;top:326px">CNC-4V<u>INIT. (3)</u></i>
<i class="n lm" style="left:1060px;top:327px">N-CRRL<u>TROLL (3)</u></i>
<i class="n pu" style="left:1098px;top:327px">3-UC8F<u>EMP (3)</u></i>
<i class="n pu" style="left:1132px;top:327px">1-7KWU<u>EMP (3)</u></i>
<i class="n pu" style="left:1265px;top:328px">H-HWQR<u>EMP (2)</u></i>
<i class="n m" style="left:1308px;top:333px">D-9UEV<u>S2NC (3)</u></i>
<i class="n m d" style="left:1400px;top:323px">F-ZBOO<u>S2NC (1)</u></i>
<i class="n p" style="left:1470px;top:317px">0P-U0Q<u>TWATS (2)</u></i>
<i class="n p" style="left:1470px;top:338px">XGH-SH<u>TWATS (3)</u></i>
<i class="n" style="left:920px;top:362px">6BPS-T<u>INIT. (3)</u></i>
<i class="n" style="left:960px;top:356px">Y-PNRL<u>INIT. (3)</u></i>
<i class="n pu" style="left:1058px;top:350px">TM-0PZ<u>EMP (3)</u></i>
<i class="n" style="left:1185px;top:356px">S-9RCJ<u>HEO. (0)</u></i>
<i class="n t d" style="left:1222px;top:343px">ZD1-Z2<u>NEXUS (3)</u></i>
<i class="n m" style="left:1385px;top:344px">NR8S-Y<u>S2NC (2)</u></i>
<i class="n p" style="left:1470px;top:356px">G-D0N3<u>TWATS (5)</u></i>
<i class="n x" style="left:1112px;top:374px">Y-FZ5N<u>Immensea</u></i>
<i class="n t" style="left:1152px;top:370px">2MV9-X<u>NEXUS (3)</u></i>
<i class="n m" style="left:1222px;top:367px">C-FD0O<u>S2NC (1)</u></i>
<i class="n pu d" style="left:1058px;top:373px">4OIV-X<u>EMP (3)</u></i>
<i class="n m" style="left:1330px;top:373px">OQTY-Z<u>S2NC (3)</u></i>
<i class="n m" style="left:1375px;top:372px">QLU-P0<u>S2NC (3)</u></i>
<i class="n m d" style="left:1415px;top:372px">G1-0UI<u>S2NC (3)</u></i>
<i class="n p" style="left:1470px;top:378px">T-AKQZ<u>TWATS (2)</u></i>
<i class="n lb" style="left:793px;top:398px">Z-N9IP<u>CHICA (3)</u></i>
<i class="n lb" style="left:830px;top:407px">9ZFH-Z<u>CHICA (3)</u></i>
<i class="n pu" style="left:910px;top:397px">WFPM-0<u>EMP (3)</u></i>
<i class="n pu" style="left:950px;top:398px">FG-1GH<u>EMP (3)</u></i>
<i class="n pu" style="left:987px;top:386px">GU-9F4<u>EMP (3)</u></i>
<i class="n m d" style="left:1152px;top:390px">FE-6YQ<u>S2NC (1)</u></i>
<i class="n m" style="left:1220px;top:390px">W-16DY<u>S2NC (0)</u></i>
<i class="n pu" style="left:1050px;top:395px">Y-JKJ8<u>EMP (3)</u></i>
<i class="n br" style="left:1332px;top:393px">R-XDKM<u>EON (3)</u></i>
<i class="n gd" style="left:1372px;top:393px">DZ6-I5<u>THOR (3)</u></i>
<i class="n m" style="left:1415px;top:390px">XUDX-A<u>S2NC (3)</u></i>
<i class="n lb" style="left:793px;top:420px">442-CS<u>CHICA (2)</u></i>
<i class="n pu" style="left:910px;top:418px">FR-B1H<u>EMP (3)</u></i>
<i class="n pu" style="left:950px;top:418px">DDI-B7<u>EMP (3)</u></i>
<i class="n pu" style="left:990px;top:406px">D-L4H0<u>EMP (3)</u></i>
<i class="n m d" style="left:1185px;top:403px">M-4KDB<u>S2NC (1)</u></i>
<i class="n lr" style="left:1305px;top:417px">B8-EKF<u>PANGU (3)</u></i>
<i class="n br" style="left:1415px;top:417px">QCDG-H<u>EON (3)</u></i>
<i class="n pu" style="left:1050px;top:420px">AFJ-NB<u>EMP (3)</u></i>
<i class="n lb" style="left:845px;top:428px">PZMA-E<u>CHICA (3)</u></i>
<i class="n pu" style="left:988px;top:432px">5GQ-S9<u>EMP (3)</u></i>
<i class="n m" style="left:1218px;top:420px">ABE-M2<u>S2NC (0)</u></i>
<i class="n p" style="left:1350px;top:430px">1BAM-3<u>TWATS (3)</u></i>
<i class="n lb" style="left:810px;top:437px">TWJ-AW<u>CHICA (2)</u></i>
<i class="n lb d" style="left:845px;top:452px">4-MPSJ<u>CHICA (3)</u></i>
<i class="n lb" style="left:885px;top:460px">N-7ECY<u>CHICA (2)</u></i>
<i class="n pu" style="left:1025px;top:452px">H-64KI<u>EMP (3)</u></i>
<i class="n br" style="left:1384px;top:437px">7M4C-F<u>EON (3)</u></i>
<i class="n br" style="left:1425px;top:437px">Y-EQ0C<u>EON (3)</u></i>
<i class="n t" style="left:1195px;top:438px">IL-YTR<u>NEXUS (3)</u></i>
<i class="n m" style="left:1240px;top:437px">UJ2US-A<u>S2NC (3)</u></i>
<i class="n m" style="left:1277px;top:445px">EQWO-Y<u>S2NC (3)</u></i>
<i class="n p" style="left:1342px;top:451px">9BHU-7<u>TWATS (3)</u></i>
<i class="n lb" style="left:935px;top:476px">IRE-98<u>CHICA (3)</u></i>
<i class="n pu" style="left:985px;top:452px">9-IIBL<u>EMP (3)</u></i>
<i class="n t" style="left:1195px;top:458px">KW-QAM<u>NEXUS (3)</u></i>
<i class="n m" style="left:1240px;top:458px">Q9-42<u>S2NC (3)</u></i>
<i class="n p" style="left:1352px;top:458px">MS1-KJ<u>TWATS (3)</u></i>
<i class="n br" style="left:1402px;top:458px">9-8TWB<u>EON (3)</u></i>
<i class="n pu" style="left:985px;top:472px">68FT-6<u>EMP (3)</u></i>
<i class="n pu" style="left:1030px;top:471px">9I-SRF<u>EMP (3)</u></i>
<i class="n lm d" style="left:1073px;top:474px">YALR-F<u>TROLL (3)</u></i>
<i class="n br" style="left:1402px;top:475px">5-NZWW<u>EON (3)</u></i>
<i class="n t d" style="left:1195px;top:480px">JK-Q77<u>NEXUS (3)</u></i>
<i class="n t" style="left:1240px;top:479px">YF-P4X<u>NEXUS (3)</u></i>
<i class="n ye" style="left:1330px;top:469px">Q5KZ-W<u>RAX (3)</u></i>
<i class="n lb" style="left:808px;top:497px">M-VEJZ<u>CHICA (3)</u></i>
<i class="n lb" style="left:893px;top:496px">DY-40Z<u>CHICA (3)</u></i>
<i class="n pu" style="left:937px;top:493px">F-3H2P<u>EMP (3)</u></i>
<i class="n pu" style="left:980px;top:493px">Y-6B0E<u>EMP (2)</u></i>
<i class="n pu" style="left:1020px;top:493px">HOHF-B<u>EMP (3)</u></i>
<i class="n lm" style="left:1105px;top:489px">IV-UNR<u>TROLL (4)</u></i>
<i class="n m" style="left:1330px;top:489px">Q0G-LB<u>S2NC (3)</u></i>
<i class="n m" style="left:1375px;top:492px">WE-KK2<u>S2NC (3)</u></i>
<i class="n br" style="left:1425px;top:491px">NZW-ZO<u>EON (3)</u></i>
<i class="n lb" style="left:808px;top:516px">M-8V5D<u>CHICA (3)</u></i>
<i class="n lb" style="left:855px;top:508px">XWY-YM<u>CHICA (3)</u></i>
<i class="n lb d" style="left:933px;top:520px">6E-MOW<u>CHICA (2)</u></i>
<i class="n pu d" style="left:1042px;top:515px">E7VE-V<u>EMP (3)</u></i>
<i class="n p" style="left:1247px;top:502px">J1-SY<u>TWATS (3)</u></i>
<i class="n m" style="left:1375px;top:515px">1-A-REV<u>S2NC (3)</u></i>
<i class="n br" style="left:1425px;top:510px">W5K-1A<u>EON (3)</u></i>
<i class="n lb" style="left:808px;top:532px">O2-39S<u>CHICA (3)</u></i>
<i class="n lb d" style="left:972px;top:532px">GZ1-A1<u>CHICA (2)</u></i>
<i class="n pu" style="left:1043px;top:535px">NUG-OF<u>EMP (3)</u></i>
<i class="n pu" style="left:1110px;top:535px">A1BK-A<u>EMP (3)</u></i>
<i class="n t" style="left:1285px;top:515px">X-1Q2A<u>NEXUS (3)</u></i>
<i class="n t" style="left:1330px;top:515px">TY2X-C<u>NEXUS (3)</u></i>
<i class="n gd" style="left:1235px;top:520px">Z-VBF<u>THOR (3)</u></i>
<i class="n p" style="left:1287px;top:535px">CCE-0J<u>TWATS (3)</u></i>
<i class="n p" style="left:1330px;top:537px">SVK-43<u>TWATS (3)</u></i>
<i class="n lb" style="left:793px;top:549px">LJK-T0<u>CHICA (3)</u></i>
<i class="n pu" style="left:882px;top:551px">X-0CKQ<u>EMP (3)</u></i>
<i class="n pu" style="left:918px;top:552px">4RS-L1<u>EMP (3)</u></i>
<i class="n lb" style="left:955px;top:553px">LHGA-W<u>CHICA (2)</u></i>
<i class="n lb" style="left:995px;top:552px">6B-GKA<u>CHICA (2)</u></i>
<i class="n pu" style="left:1043px;top:552px">L6BY-P<u>EMP (3)</u></i>
<i class="n pu d" style="left:1080px;top:544px">U3SQ-X<u>EMP (2)</u></i>
<i class="n pu" style="left:1112px;top:551px">01TG-J<u>EMP (3)</u></i>
<i class="n pu" style="left:1150px;top:551px">UK-SHL<u>EMP (3)</u></i>
<i class="n pu d" style="left:896px;top:534px">GBT4-J<u>EMP (3)</u></i>

<i class="n lg" style="left:16px;top:576px">FN-GFQ<u>THORN (3)</u></i>
<i class="n lg" style="left:46px;top:592px">NH-R5B<u>THORN (3)</u></i>
<i class="n lg" style="left:242px;top:571px">G2-INZ<u>THORN (3)</u></i>
<i class="n x" style="left:328px;top:569px">U-WLT9<u>Stain</u></i>
<i class="n ye" style="left:440px;top:572px">HAJ-DQ<u>ZN-SB (3)</u></i>
<i class="n lg d" style="left:95px;top:602px">C-V2AK<u>THORN (3)</u></i>
<i class="n lg" style="left:155px;top:596px">RBW-8G<u>THORN (3)</u></i>
<i class="n lg d" style="left:197px;top:594px">WAC-HW<u>THORN (3)</u></i>
<i class="n lg d" style="left:243px;top:594px">A-CJGE<u>THORN (3)</u></i>
<i class="n p" style="left:287px;top:594px">HHQ-M1<u>-RON- (3)</u></i>
<i class="n p" style="left:327px;top:594px">VYJ-DA<u>-RON- (3)</u></i>
<i class="n o d" style="left:375px;top:594px">HT4K-M<u>WALLT (3)</u></i>
<i class="n ye" style="left:430px;top:594px">4-OUKF<u>ZN-SB (3)</u></i>
<i class="n lg" style="left:54px;top:613px">0-O6XF<u>THORN (2)</u></i>
<i class="n ye" style="left:462px;top:610px">JAUD-V<u>ZN-SB (3)</u></i>
<i class="n lg" style="left:16px;top:628px">VL7-60<u>THORN (3)</u></i>
<i class="n lg" style="left:60px;top:635px">D-FVI7<u>THORN (3)</u></i>
<i class="n o d" style="left:483px;top:631px">DTX8-M<u>WALLT (3)</u></i>
<i class="n o" style="left:613px;top:621px">8Z-0GW<u>WALLT (3)</u></i>
<i class="n ye" style="left:489px;top:651px">DIN-CC<u>ZN-SB (3)</u></i>
<i class="n o" style="left:622px;top:650px">WX-6UK<u>WALLT (3)</u></i>
<i class="n o" style="left:667px;top:644px">MJP-PX<u>WALLT (3)</u></i>
<i class="n o" style="left:170px;top:651px">H-T40Z<u>WALLT (3)</u></i>
<i class="n o" style="left:270px;top:650px">Q1-R7K<u>WALLT (3)</u></i>
<i class="n o" style="left:690px;top:664px">CR-0ES<u>WALLT (3)</u></i>
<i class="n o" style="left:150px;top:676px">111-F1<u>WALLT (3)</u></i>
<i class="n o" style="left:195px;top:673px">J-RVGD<u>WALLT (3)</u></i>
<i class="n o d" style="left:278px;top:670px">6-TYRX<u>WALLT (3)</u></i>
<i class="n pe" style="left:493px;top:673px">X-7B1X<u>TROLL (3)</u></i>
<i class="n o" style="left:618px;top:674px">XKZ8-H<u>WALLT (3)</u></i>
<i class="n o" style="left:665px;top:688px">Z-Y9C3<u>WALLT (3)</u></i>
<i class="n o" style="left:232px;top:686px">NIZJ-0<u>WALLT (3)</u></i>
<i class="n o" style="left:278px;top:693px">IR-FDV<u>WALLT (3)</u></i>
<i class="n ye" style="left:453px;top:684px">5-9UXZ<u>ZN-SB (3)</u></i>
<i class="n o" style="left:492px;top:691px">Q0OH-V<u>WALLT (3)</u></i>
<i class="n o" style="left:205px;top:703px">V1ZC-S<u>WALLT (3)</u></i>
<i class="n o d" style="left:403px;top:706px">V-XANH<u>WALLT (3)</u></i>
<i class="n o" style="left:363px;top:717px">OIOM-Y<u>WALLT (3)</u></i>
<i class="n o d" style="left:420px;top:729px">F-UVBV<u>WALLT (3)</u></i>
<i class="n lb" style="left:553px;top:729px">C28U-1<u>ODD (3)</u></i>
<i class="n lb" style="left:600px;top:730px">6EK-6V<u>ODD (3)</u></i>
<i class="n o" style="left:369px;top:738px">TEIZ-C<u>WALLT (3)</u></i>
<i class="n o" style="left:494px;top:737px">A1-ALH<u>WALLT (3)</u></i>
<i class="n lb" style="left:555px;top:749px">G-YZUX<u>ODD (3)</u></i>
<i class="n" style="left:598px;top:752px">D-PNP9<u>INIT. (3)</u></i>
<i class="n" style="left:645px;top:753px">E1UU-3<u>INIT. (3)</u></i>
<i class="n lb" style="left:690px;top:755px">8Y-MSY<u>ODD (3)</u></i>
<i class="n y" style="left:218px;top:752px">2R-KLH<u>ENTRO (3)</u></i>
<i class="n y" style="left:262px;top:752px">QFIU-K<u>ENTRO (3)</u></i>
<i class="n y" style="left:303px;top:752px">YRV-MZ<u>ENTRO (3)</u></i>
<i class="n o" style="left:408px;top:748px">R-FM0G<u>WALLT (3)</u></i>
<i class="n o" style="left:495px;top:760px">UVAC-Y<u>WALLT (3)</u></i>
<i class="n lb" style="left:550px;top:767px">P3-XVV<u>ODD (3)</u></i>
<i class="n y" style="left:216px;top:775px">B1D-KU<u>ENTRO (3)</u></i>
<i class="n y" style="left:262px;top:775px">6SB-BN<u>ENTRO (3)</u></i>
<i class="n y" style="left:305px;top:775px">KSM-1T<u>ENTRO (3)</u></i>
<i class="n o" style="left:495px;top:785px">4S0-W<u>WALLT (3)</u></i>
<i class="n pe" style="left:311px;top:814px">9T-APQ<u>TROLL (4)</u></i>
<i class="n pe" style="left:371px;top:812px">O-MCZR<u>TROLL (3)</u></i>
<i class="n lb d" style="left:235px;top:823px">5AQ-5H<u>TROLL (4)</u></i>
<i class="n y" style="left:650px;top:822px">PE-HKZ<u>ENTRO (3)</u></i>
<i class="n pe" style="left:347px;top:829px">ARBX-9<u>TROLL (4)</u></i>
<i class="n pe" style="left:182px;top:857px">T-ZFID<u>TROLL (4)</u></i>
<i class="n pe" style="left:220px;top:846px">0-MX34<u>TROLL (4)</u></i>
<i class="n lb d" style="left:264px;top:846px">4Y-OBL<u>TROLL (4)</u></i>
<i class="n pe" style="left:315px;top:846px">33-JRO<u>TROLL (4)</u></i>
<i class="n lb d" style="left:377px;top:853px">JI-K5H<u>TROLL (4)</u></i>
<i class="n y" style="left:605px;top:832px">DNEP-Y<u>ENTRO (3)</u></i>
<i class="n y" style="left:678px;top:843px">YAP-TN<u>ENTRO (3)</u></i>
<i class="n y" style="left:720px;top:843px">HHES-L<u>ENTRO (3)</u></i>
<i class="n pe" style="left:460px;top:864px">SN8S-N<u>TROLL (4)</u></i>
<i class="n y" style="left:600px;top:855px">Z-MD29<u>ENTRO (3)</u></i>
<i class="n d" style="left:320px;top:871px">5-CSE3<u>&nbsp;</u></i>
<i class="n y" style="left:677px;top:862px">DBIH-Q<u>ENTRO (3)</u></i>
<i class="n y" style="left:720px;top:862px">H-YHYM<u>ENTRO (3)</u></i>
<i class="n pe" style="left:165px;top:878px">0ZN7-G<u>TROLL (4)</u></i>
<i class="n ye" style="left:497px;top:886px">JD-TYH<u>ZN-SB (3)</u></i>
<i class="n ye" style="left:540px;top:880px">A5MT-B<u>ZN-SB (3)</u></i>
<i class="n y" style="left:632px;top:880px">G-JC9R<u>ENTRO (3)</u></i>
<i class="n y" style="left:743px;top:886px">G-4H4C<u>ENTRO (3)</u></i>
<i class="n dc" style="left:80px;top:896px">UAAU-C<u>DICE (4)</u></i>
<i class="n pe" style="left:165px;top:897px">H8-ZTO<u>TROLL (4)</u></i>
<i class="n pu d" style="left:52px;top:913px">3PPT-9<u>PWNY. (4)</u></i>
<i class="n dc" style="left:103px;top:910px">YV-FDG<u>DICE (4)</u></i>
<i class="n dc" style="left:80px;top:926px">8Q-UYU<u>DICE (4)</u></i>
<i class="n ye" style="left:184px;top:917px">HHJD-5<u>ZN-SB (3)</u></i>
<i class="n pe" style="left:230px;top:917px">1DDR-X<u>TROLL (4)</u></i>
<i class="n lb d" style="left:492px;top:908px">02V-BK<u>ZN-SB (3)</u></i>
<i class="n y" style="left:630px;top:914px">QS-530<u>ENTRO (3)</u></i>
<i class="n dc" style="left:120px;top:933px">LUL-WX<u>DICE (4)</u></i>
<i class="n pu" style="left:22px;top:937px">S-KU8B<u>PWNY. (4)</u></i>
<i class="n lb d" style="left:488px;top:934px">R-ARKN<u>ZN-SB (3)</u></i>
<i class="n ye" style="left:540px;top:937px">DL-CDY<u>ZN-SB (3)</u></i>
<i class="n y" style="left:588px;top:925px">X-HISR<u>ENTRO (3)</u></i>
<i class="n y" style="left:630px;top:938px">VR-YRV<u>ENTRO (3)</u></i>
<i class="n y" style="left:678px;top:941px">1PX-HS<u>ENTRO (3)</u></i>
<i class="n pe" style="left:202px;top:941px">AA-GNF<u>TROLL (3)</u></i>
<i class="n pe" style="left:242px;top:937px">ZWV-GD<u>TROLL (3)</u></i>
<i class="n lb d" style="left:567px;top:954px">29YH-V<u>ZN-SB (3)</u></i>
<i class="n pu" style="left:16px;top:958px">JK-GLL<u>PWNY. (4)</u></i>
<i class="n ye" style="left:235px;top:958px">LG-WA9<u>ZN-SB (4)</u></i>
<i class="n ye" style="left:280px;top:969px">O4T-Z5<u>ZN-SB (4)</u></i>
<i class="n ye" style="left:475px;top:958px">MS2-V8<u>ZN-SB (3)</u></i>
<i class="n y" style="left:610px;top:968px">LG-RO2<u>ENTRO (3)</u></i>
<i class="n pu" style="left:22px;top:1013px">LD-2VL<u>PWNY. (4)</u></i>
<i class="n ye" style="left:476px;top:998px">P9F-ZG<u>ZN-SB (3)</u></i>
<i class="n ye" style="left:283px;top:1010px">O-97ZG<u>ZN-SB (4)</u></i>
<i class="n pu" style="left:22px;top:1034px">ZBY-0I<u>PWNY. (4)</u></i>
<i class="n ye" style="left:228px;top:1031px">KU3-BB<u>ZN-SB (4)</u></i>
<i class="n ye" style="left:278px;top:1031px">2I-520<u>ZN-SB (4)</u></i>
<i class="n lb d" style="left:495px;top:1026px">QFGB-E<u>ZN-SB (2)</u></i>
<i class="n ye" style="left:546px;top:1028px">7P-J38<u>ZN-SB (3)</u></i>
<i class="n ye" style="left:462px;top:1036px">PK-PHZ<u>ZN-SB (3)</u></i>
<i class="n pe" style="left:520px;top:1045px">WT-2J9<u>TROLL (2)</u></i>
<i class="n x" style="left:101px;top:1023px">TCAG-3<u>Period Basis</u></i>
<i class="n dc" style="left:22px;top:1053px">MP5-KR<u>DICE (4)</u></i>
<i class="n ye" style="left:164px;top:1058px">G-M4GK<u>ZN-SB (5)</u></i>
<i class="n ye" style="left:212px;top:1063px">0SUF-3<u>ZN-SB (4)</u></i>
<i class="n ye" style="left:254px;top:1057px">GQ2S-8<u>ZN-SB (4)</u></i>
<i class="n ye" style="left:461px;top:1062px">L-M6JK<u>ZN-SB (3)</u></i>
<i class="n ye" style="left:542px;top:1066px">C-PEWN<u>ZN-SB (0)</u></i>
<i class="n pu" style="left:38px;top:1075px">O-N589<u>PWNY. (4)</u></i>
<i class="n lb d" style="left:212px;top:1085px">O1Q-P1<u>ZN-SB (4)</u></i>
<i class="n lb d" style="left:262px;top:1083px">G1D0-G<u>ZN-SB (4)</u></i>
<i class="n ye d" style="left:14px;top:1097px">ZDYA-G<u>ZN-SB (4)</u></i>
<i class="n dc d" style="left:62px;top:1097px">LX5K-W<u>DICE (4)</u></i>
</div></body></html>
